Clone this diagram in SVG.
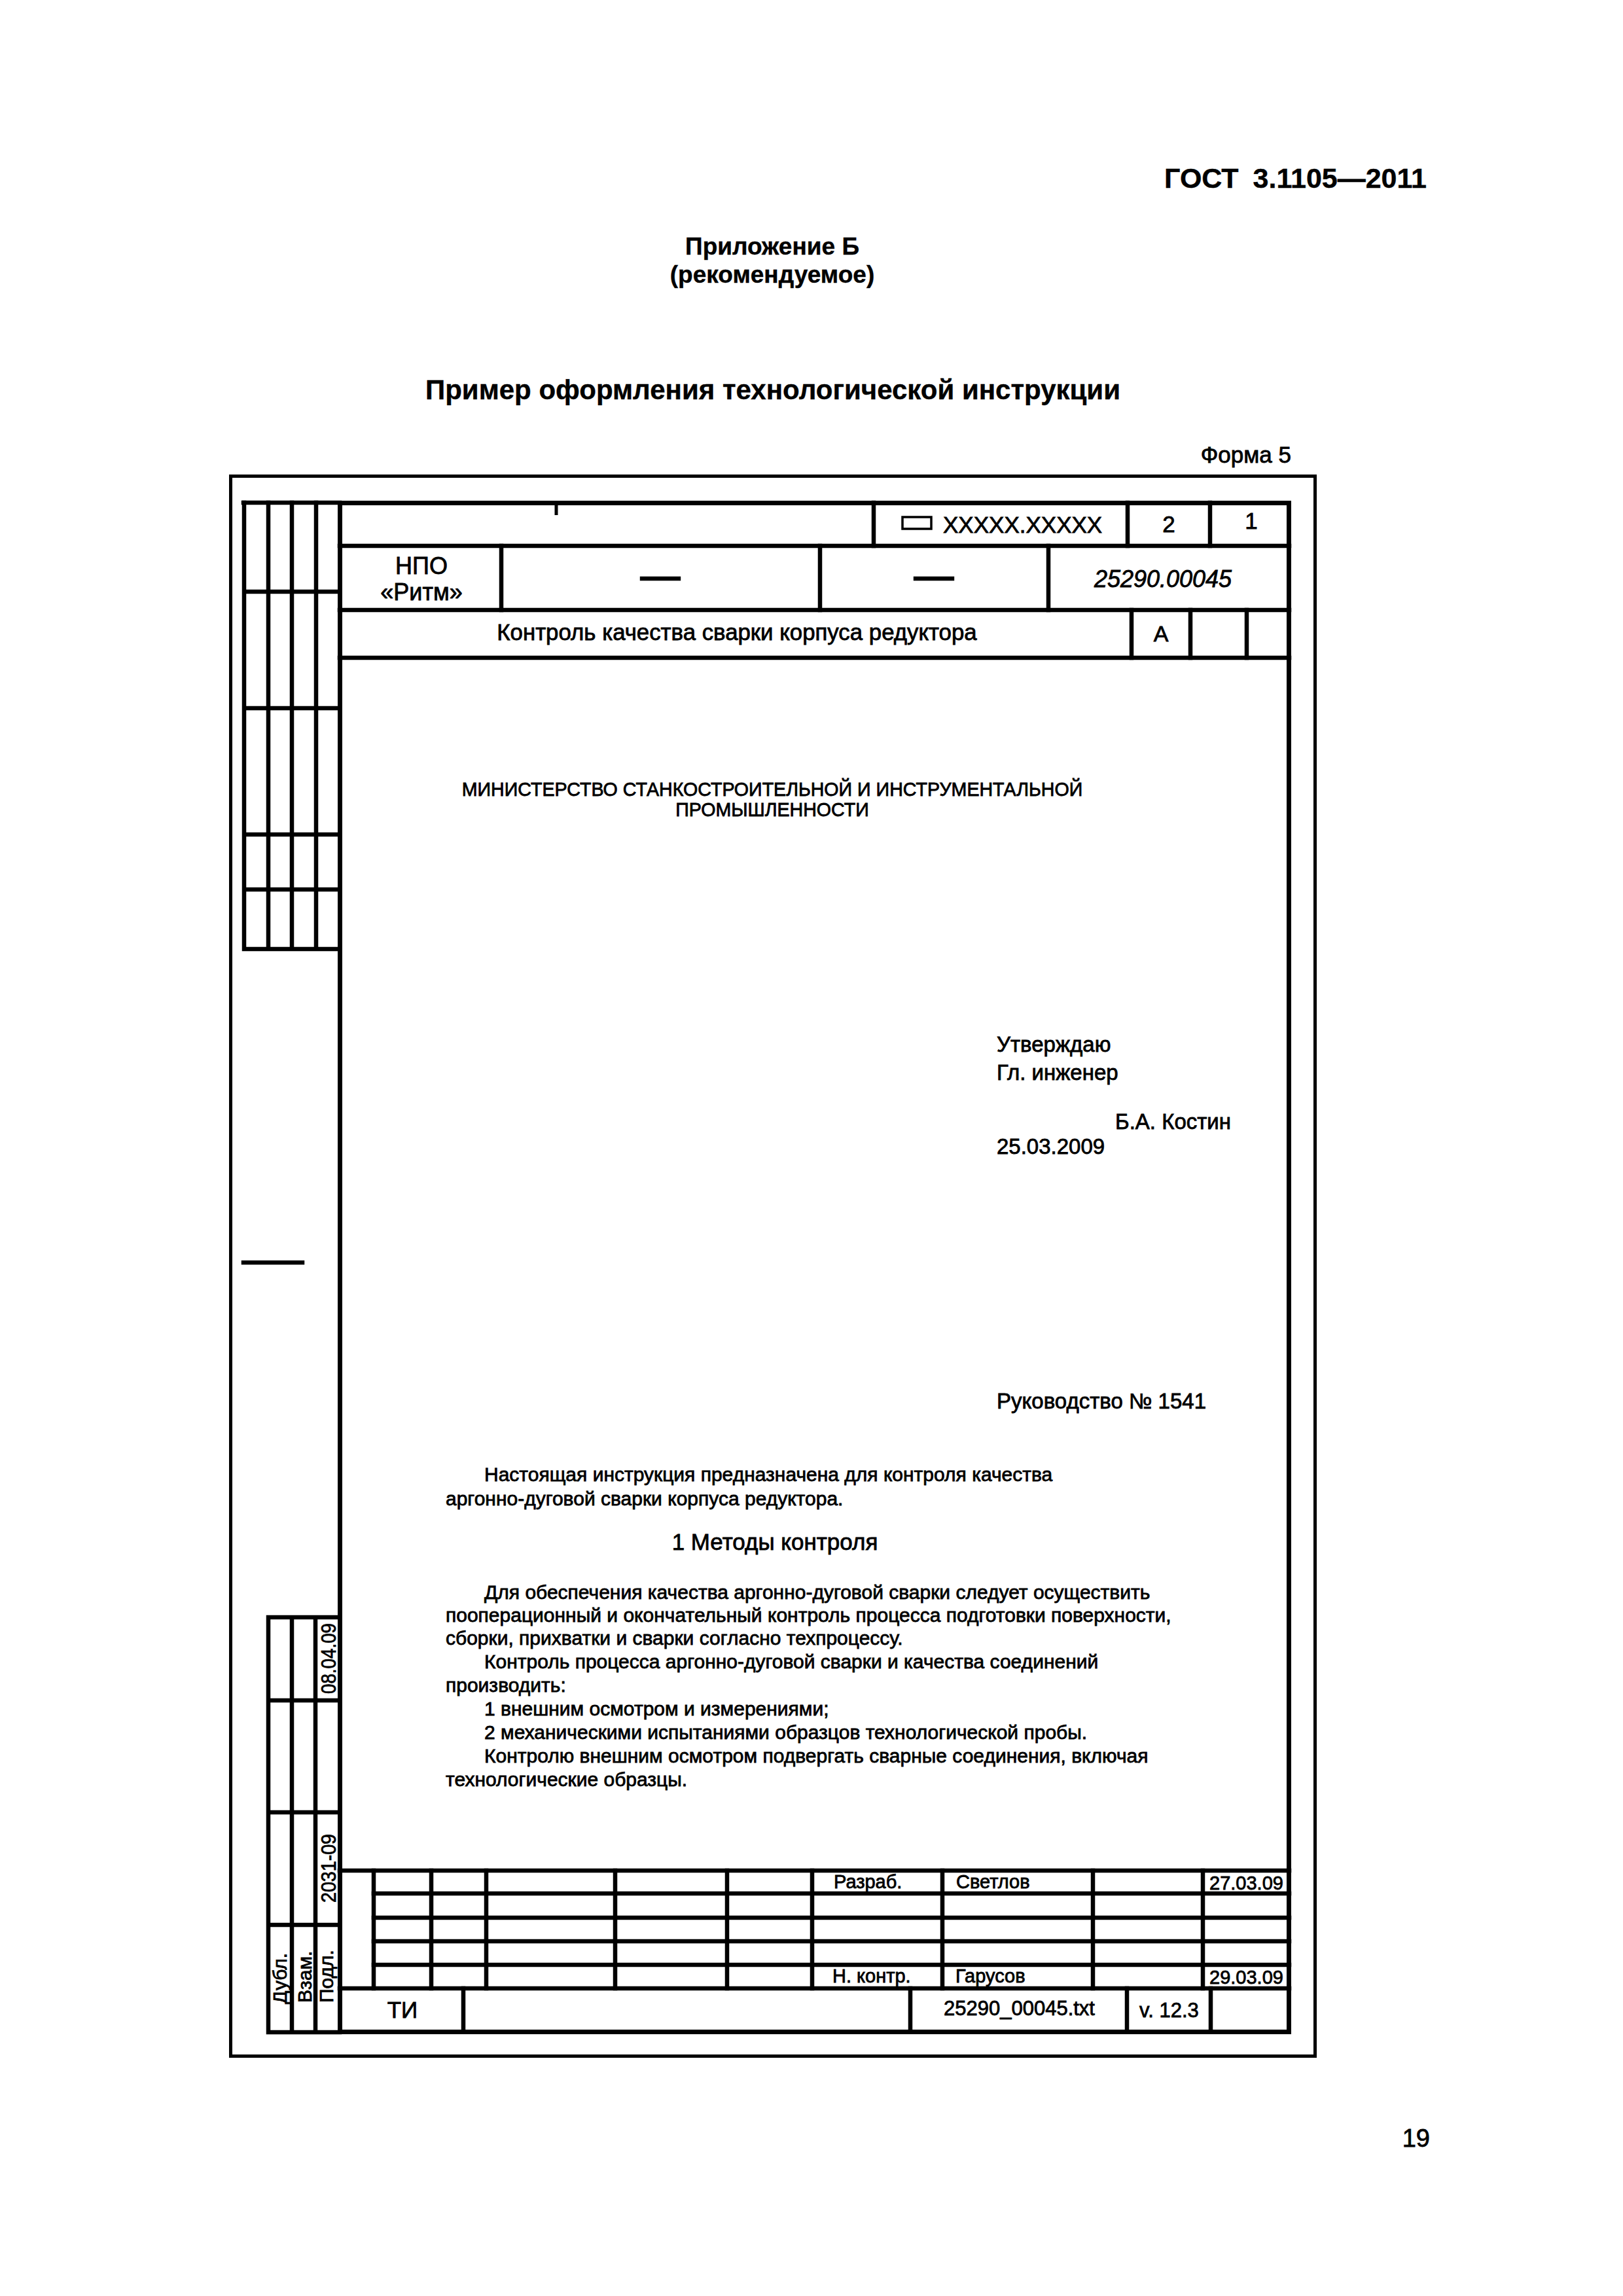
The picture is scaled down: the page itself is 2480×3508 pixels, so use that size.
<svg xmlns="http://www.w3.org/2000/svg" width="2480" height="3508" viewBox="0 0 2480 3508">
<style>
text{font-family:"Liberation Sans",Arial,sans-serif;fill:#000;stroke:#000;stroke-width:0.8}
.b{font-weight:bold;stroke-width:0.4}
.c{text-anchor:middle}
.e{text-anchor:end}
.ln{stroke:#000;stroke-width:6.5;fill:none;stroke-linecap:square}
.fr{stroke:#000;stroke-width:7;fill:none}
.of{stroke:#000;stroke-width:5;fill:none}
.t30{font-size:30px}
.t33{font-size:33px}
.t29{font-size:29px}
</style>
<rect width="2480" height="3508" fill="#fff"/>
<g id="page-header">
<text class="b e" x="2180" y="287" font-size="43" word-spacing="10">ГОСТ 3.1105—2011</text>
<text class="b c" x="1180" y="389" font-size="37">Приложение Б</text>
<text class="b c" x="1180" y="432" font-size="37">(рекомендуемое)</text>
<text class="b c" x="1181" y="610" font-size="42">Пример оформления технологической инструкции</text>
<text class="e" x="1973" y="707" font-size="35">Форма 5</text>
</g>
<g id="frames">
<rect class="of" x="352.5" y="727.5" width="1657" height="2414"/>
<rect class="fr" x="519.5" y="768.5" width="1450" height="2336"/>
</g>
<g id="left-strip-top">
<path class="ln" d="M373 768V1450H519M410 768V1450M446 768V1450M483 768V1450M373 904H519M373 1082H519M373 1275H519M373 1359H519"/>
<path class="ln" d="M372 768H519"/>
<path class="ln" d="M372 1929H462" stroke-width="7"/>
</g>
<g id="left-strip-bottom">
<path class="ln" d="M410 2471H519M410 2471V3105H519M446 2471V3105M482 2471V3105M410 2598H519M410 2769H519M410 2941H519"/>
<text class="t30" transform="translate(438,3062) rotate(-90)">Дубл.</text>
<text class="t30" transform="translate(476,3060) rotate(-90)">Взам.</text>
<text class="t30" transform="translate(509,3060) rotate(-90)">Подл.</text>
<text font-size="32" transform="translate(513,2907) rotate(-90)" textLength="105" lengthAdjust="spacingAndGlyphs">2031-09</text>
<text font-size="32" transform="translate(513,2588) rotate(-90)" textLength="108" lengthAdjust="spacingAndGlyphs">08.04.09</text>
</g>
<g id="header-table">
<path class="ln" d="M519 834H1970M519 932H1970M519 1005H1970"/>
<path class="ln" d="M1335 768V834M1723 768V834M1849 768V834"/>
<path class="ln" d="M766 834V932M1253 834V932M1602 834V932"/>
<path class="ln" d="M1729 932V1005M1819 932V1005M1905 932V1005"/>
<path d="M850 768V787" stroke="#000" stroke-width="5"/>
<rect x="1379" y="790" width="44" height="18" fill="none" stroke="#000" stroke-width="3.5"/>
<text x="1441" y="814" font-size="35">XXXXX.XXXXX</text>
<text class="c" x="1786" y="813" font-size="35">2</text>
<text class="c" x="1912" y="808" font-size="35">1</text>
<text class="c" x="644" y="877" font-size="36">НПО</text>
<text class="c" x="644" y="917" font-size="36">«Ритм»</text>
<text class="c b" x="1009" y="900" font-size="62">—</text>
<text class="c b" x="1427" y="900" font-size="62">—</text>
<text class="c" x="1777" y="897" font-size="36" font-style="italic">25290.00045</text>
<text class="c" x="1126" y="978" font-size="34.8">Контроль качества сварки корпуса редуктора</text>
<text class="c" x="1774" y="980" font-size="34">А</text>
</g>
<g id="title-page">
<text class="c" x="1180" y="1216" font-size="28.6">МИНИСТЕРСТВО СТАНКОСТРОИТЕЛЬНОЙ И ИНСТРУМЕНТАЛЬНОЙ</text>
<text class="c" x="1180" y="1247" font-size="28.6">ПРОМЫШЛЕННОСТИ</text>
<text class="t33" x="1523" y="1607">Утверждаю</text>
<text class="t33" x="1523" y="1650">Гл. инженер</text>
<text class="t33" x="1704" y="1725">Б.А. Костин</text>
<text class="t33" x="1523" y="1763">25.03.2009</text>
<text class="t33" x="1523" y="2152">Руководство № 1541</text>
</g>
<g id="body-text" class="t30">
<text x="740" y="2263">Настоящая инструкция предназначена для контроля качества</text>
<text x="681" y="2300">аргонно-дуговой сварки корпуса редуктора.</text>
<text class="c" x="1184" y="2368" font-size="35">1 Методы контроля</text>
<text x="740" y="2443">Для обеспечения качества аргонно-дуговой сварки следует осуществить</text>
<text x="681" y="2478">пооперационный и окончательный контроль процесса подготовки поверхности,</text>
<text x="681" y="2513">сборки, прихватки и сварки согласно техпроцессу.</text>
<text x="740" y="2549">Контроль процесса аргонно-дуговой сварки и качества соединений</text>
<text x="681" y="2585">производить:</text>
<text x="740" y="2621">1 внешним осмотром и измерениями;</text>
<text x="740" y="2657">2 механическими испытаниями образцов технологической пробы.</text>
<text x="740" y="2693">Контролю внешним осмотром подвергать сварные соединения, включая</text>
<text x="681" y="2729">технологические образцы.</text>
</g>
<g id="signature-block">
<path class="ln" d="M519 2858H1970M571 2893H1970M571 2930H1970M571 2966H1970M571 3002H1970"/>
<path class="ln" d="M519 3038H1970" stroke-width="7"/>
<path class="ln" d="M571 2858V3038M659 2858V3038M743 2858V3038M940 2858V3038M1111 2858V3038M1241 2858V3038M1440 2858V3038M1670 2858V3038M1838 2858V3038"/>
<path class="ln" d="M708 3038V3102M1391 3038V3102M1722 3038V3102M1850 3038V3102"/>
<text class="t29" x="1274" y="2885">Разраб.</text>
<text class="t29" x="1461" y="2885">Светлов</text>
<text class="t29" x="1848" y="2887">27.03.09</text>
<text class="t29" x="1272" y="3029">Н. контр.</text>
<text class="t29" x="1460" y="3029">Гарусов</text>
<text class="t29" x="1848" y="3031">29.03.09</text>
<text class="c" x="615" y="3083" font-size="35">ТИ</text>
<text x="1442" y="3079" font-size="31">25290_00045.txt</text>
<text x="1741" y="3082" font-size="31">v. 12.3</text>
</g>
<g id="page-number">
<text class="e" x="2185" y="3280" font-size="38">19</text>
</g>
</svg>
